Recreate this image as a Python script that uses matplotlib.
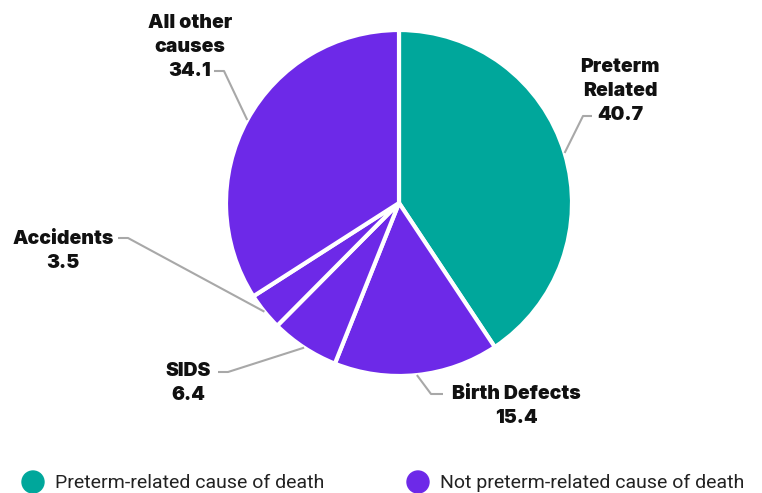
import matplotlib
matplotlib.use("Agg")
import matplotlib.pyplot as plt
import numpy as np

# data
causes = ["Preterm\nRelated", "Birth Defects", "SIDS", "Accidents", "All other\ncauses"]
values = [40.7, 15.4, 6.4, 3.5, 34.1]
preterm = [True, False, False, False, False]
legend_labels = ["Preterm-related cause of death", "Not preterm-related cause of death"]

TEAL = "#00a79b"
PURPLE = "#6d29e8"
W, H = 762, 493

fig = plt.figure(figsize=(W / 100, H / 100), dpi=100)
ax = fig.add_axes([0, 0, 1, 1])

cx, cy, r = 399, H - 203, 173
colors = [TEAL if p else PURPLE for p in preterm]
wedges, _ = ax.pie(values, colors=colors, startangle=90, counterclock=False,
                   center=(cx, cy), radius=r, frame=True,
                   wedgeprops=dict(edgecolor="white", linewidth=3))
ax.set_xlim(0, W)
ax.set_ylim(0, H)
ax.set_aspect("equal")
ax.axis("off")

# label layout: text center, elbow point, text side
layout = [
    ((620, H - 91), (583, H - 116), (592, H - 116)),
    ((516, H - 406), (431, H - 394), (443, H - 394)),
    ((188, H - 383), (228, H - 372), (218, H - 372)),
    ((63, H - 251), (128, H - 238), (118, H - 238)),
    ((190, H - 47), (224, H - 71), (214, H - 71)),
]

for w, name, val, (tpos, elbow, end) in zip(wedges, causes, values, layout):
    mid = np.deg2rad((w.theta1 + w.theta2) / 2)
    ex, ey = cx + r * np.cos(mid), cy + r * np.sin(mid)
    ax.plot([ex, elbow[0], end[0]], [ey, elbow[1], end[1]],
            color="#a8a8a8", lw=1.5, solid_capstyle="butt", zorder=1)
    ax.text(tpos[0], tpos[1], f"{name}\n{val}", ha="center", va="center",
            fontsize=14, fontweight="black", family=["Inter", "DejaVu Sans"],
            color="#111111", linespacing=1.4)

# legend at bottom
leg_x = [33, 418]
for x, lab, col in zip(leg_x, legend_labels, [TEAL, PURPLE]):
    ax.add_patch(plt.Circle((x, H - 482), 11, color=col, clip_on=False))
    ax.text(x + 22, H - 488, lab, ha="left", va="baseline", fontsize=14,
            family=["Roboto", "DejaVu Sans"], color="#222222")

fig.savefig("out.png", dpi=100)
